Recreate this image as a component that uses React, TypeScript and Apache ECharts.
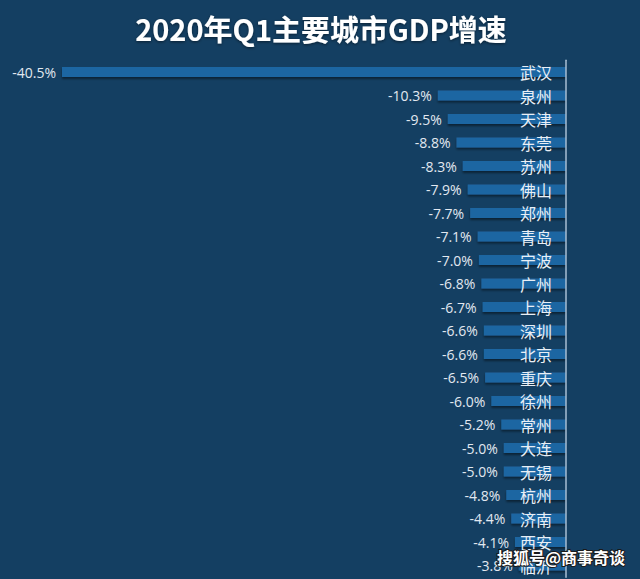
import React, { useEffect, useRef } from "react";
import * as echarts from "echarts";

const cities = ["武汉", "泉州", "天津", "东莞", "苏州", "佛山", "郑州", "青岛", "宁波", "广州", "上海", "深圳", "北京", "重庆", "徐州", "常州", "大连", "无锡", "杭州", "济南", "西安", "临沂"];
const growth = [-40.5, -10.3, -9.5, -8.8, -8.3, -7.9, -7.7, -7.1, -7.0, -6.8, -6.7, -6.6, -6.6, -6.5, -6.0, -5.2, -5.0, -5.0, -4.8, -4.4, -4.1, -3.8];
const titleText = "2020年Q1主要城市GDP增速";
const watermark = "搜狐号@商事奇谈";

export default function App() {
  const ref = useRef<HTMLDivElement>(null);
  useEffect(() => {
    if (!ref.current) return;
    const chart = echarts.init(ref.current, undefined, { renderer: "svg" });
    chart.setOption({
      animation: false,
      backgroundColor: "#143f62",
      title: {
        text: titleText,
        left: 316,
        textAlign: "center",
        top: 8,
        textStyle: {
          color: "#ffffff",
          fontSize: 29,
          fontWeight: "bold",
          fontFamily: "Noto Sans CJK SC",
          textShadowColor: "rgba(0,0,0,0.5)",
          textShadowBlur: 3,
          textShadowOffsetY: 1,
        },
      },
      grid: { left: 6, right: 74, top: 60.25, height: 517 },
      xAxis: {
        type: "value",
        min: -45,
        max: 0,
        show: false,
      },
      yAxis: {
        type: "category",
        data: cities,
        inverse: true,
        position: "right",
        z: 10,
        axisLine: { show: true, lineStyle: { color: "#a7bfd4", width: 1.5 } },
        axisTick: { show: false },
        axisLabel: {
          inside: true,
          margin: 14,
          color: "#e9eff6",
          fontSize: 16,
          fontFamily: "Noto Sans CJK SC",
        },
        splitLine: { show: false },
      },
      series: [
        {
          type: "bar",
          data: growth,
          barWidth: 10,
          itemStyle: {
            color: "#1f66a2",
            shadowColor: "rgba(0,0,0,0.45)",
            shadowBlur: 2,
            shadowOffsetY: 2,
          },
          label: {
            show: true,
            position: "left",
            distance: 6,
            formatter: (p: any) => p.value.toFixed(1) + "%",
            color: "#e2e8f0",
            fontSize: 14,
            fontFamily: "Open Sans",
          },
        },
      ],
      graphic: [
        {
          type: "text",
          right: 14,
          top: 548,
          z: 100,
          style: {
            text: watermark,
            fill: "#ffffff",
            fontSize: 16,
            fontWeight: "bold",
            fontFamily: "Noto Sans CJK SC",
            stroke: "#1a1a1a",
            lineWidth: 2,
          },
        },
      ],
    });
    return () => chart.dispose();
  }, []);
  return <div ref={ref} style={{ position: "fixed", left: 0, top: 0, width: 640, height: 579 }} />;
}
